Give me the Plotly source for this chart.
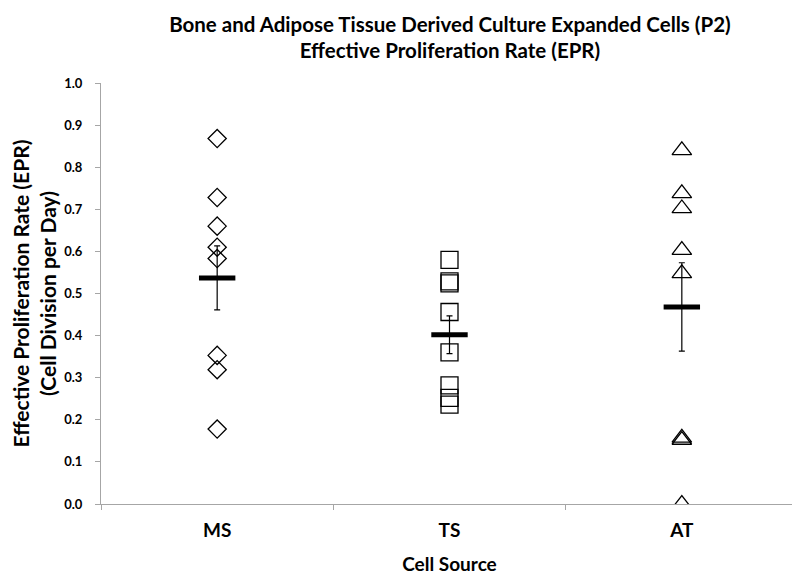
import plotly.graph_objects as go

# Data
categories = ["MS", "TS", "AT"]
ms_vals = [0.868, 0.728, 0.660, 0.610, 0.583, 0.353, 0.319, 0.178]
ts_vals = [0.580, 0.529, 0.524, 0.456, 0.360, 0.282, 0.252, 0.236]
at_vals = [0.840, 0.738, 0.702, 0.603, 0.548, 0.157, 0.152, 0.000]
means = [0.537, 0.402, 0.468]
sem = [0.076, 0.045, 0.105]
symbols = ["diamond-open", "square-open", "triangle-up-open"]
sizes = [14, 17, 17]

font = "Lato"
fig = go.Figure()

for cat, vals, sym, sz in zip(categories, [ms_vals, ts_vals, at_vals], symbols, sizes):
    fig.add_trace(go.Scatter(x=[cat] * len(vals), y=vals, mode="markers",
                             marker=dict(symbol=sym, size=sz, color="black",
                                         line=dict(color="black", width=1.3)),
                             showlegend=False))

# mean with standard error
fig.add_trace(go.Scatter(x=categories, y=means, mode="markers",
                         marker=dict(symbol="line-ew", size=26,
                                     line=dict(color="black", width=5)),
                         error_y=dict(type="data", array=sem, color="black",
                                      thickness=1.2, width=3),
                         showlegend=False))

# page body adds an 8px margin, so the figure is sized to fit inside the window
fig.update_layout(
    width=792, height=567,
    margin=dict(l=93, r=2, t=75, b=71, autoexpand=False),
    plot_bgcolor="white", paper_bgcolor="white",
    font=dict(family=font, color="black"),
    title=dict(text="<b>Bone and Adipose Tissue Derived Culture Expanded Cells (P2)<br>Effective Proliferation Rate (EPR)</b>",
               x=0.558, xanchor="center", yref="container", y=0.958, yanchor="top",
               font=dict(size=20.5, family=font)),
    xaxis=dict(type="category", categoryorder="array", categoryarray=categories,
               range=[-0.5, 2.5], showline=True, linecolor="#a6a6a6", linewidth=1,
               ticks="outside", tickson="boundaries", ticklen=5, tickcolor="#a6a6a6",
               showgrid=False, zeroline=False, automargin=False,
               tickfont=dict(size=19, family=font),
               ticklabelstandoff=9,
               title=dict(text="<b>Cell Source</b>", font=dict(size=19, family=font), standoff=18)),
    yaxis=dict(range=[0, 1], dtick=0.1, tickformat=".1f",
               showline=True, linecolor="#a6a6a6", linewidth=1,
               ticks="outside", ticklen=5, tickcolor="#a6a6a6",
               showgrid=False, zeroline=False, automargin=False,
               tickfont=dict(size=13, family=font),
               ticklabelstandoff=10,
               title=dict(text="<b>Effective Proliferation Rate (EPR)<br>(Cell Division per Day)</b>",
                          font=dict(size=21, family=font), standoff=25)),
)
fig.update_yaxes(tickprefix="<b>", ticksuffix="</b>")
fig.update_xaxes(tickprefix="<b>", ticksuffix="</b>")

fig.write_html("out.html")
